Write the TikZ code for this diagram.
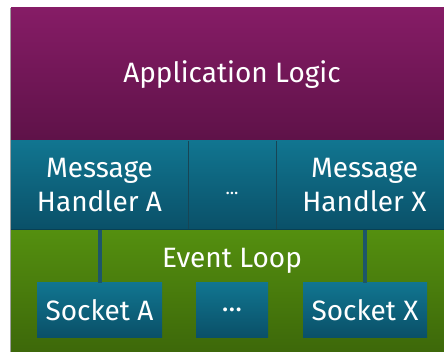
\documentclass[tikz,border=0pt]{standalone}
\usepackage{fontspec}
\setmainfont{Fira Sans}
\definecolor{plumtop}{HTML}{861C66}
\definecolor{plumbot}{HTML}{5E1248}
\definecolor{tealtop}{HTML}{117590}
\definecolor{tealbot}{HTML}{0A5068}
\definecolor{greentop}{HTML}{548F0F}
\definecolor{greenbot}{HTML}{3D680A}
\definecolor{tealline}{HTML}{1D566A}
\definecolor{edgegray}{HTML}{A0A0A0}
\tikzset{
  layer/.style={rectangle, inner sep=0pt, outer sep=0pt, text=white, align=center},
  plum/.style={layer, top color=plumtop, bottom color=plumbot},
  tealbox/.style={layer, top color=tealtop, bottom color=tealbot},
  greenbox/.style={layer, top color=greentop, bottom color=greenbot},
  sep/.style={draw=tealline!80!black, line width=0.8pt},
  bar/.style={fill=tealline, draw=none},
  big/.style={font=\fontsize{28}{34}\selectfont},
}
\begin{document}
\begin{tikzpicture}[x=1pt, y=-1pt]
\useasboundingbox (0,0) rectangle (444,352);
\fill[white] (0,0) rectangle (444,352);
\clip (0,0) rectangle (444,352);
% application layer
\node[plum, big, minimum width=442pt, minimum height=133pt]
  (app) at (232,74.5) {Application Logic};
% message handlers
\node[tealbox, big, minimum width=177pt, minimum height=89pt]
  (ha) at (99.5,185.5) {Message\\Handler A};
\node[tealbox, minimum width=88pt, minimum height=89pt] (hd) at (232,185.5) {};
\node[text=white, inner sep=0pt, font=\fontsize{18}{22}\selectfont, yshift=-8pt]
  (hdtxt) at (hd.center) {...};
\node[tealbox, big, minimum width=177pt, minimum height=89pt]
  (hx) at (364.5,185.5) {Message\\Handler X};
\draw[sep] (ha.north east) -- (ha.south east);
\draw[sep] (hx.north west) -- (hx.south west);
\draw[draw=tealbot!80!black, line width=1pt] (ha.south west) -- (hx.south east);
% event loop
\node[greenbox, minimum width=442pt, minimum height=121pt] (loop) at (232,291.5) {};
\node[text=white, big, inner sep=0pt] (looptxt) at (232,261) {Event Loop};
% sockets
\node[tealbox, big, minimum width=125pt, minimum height=54pt]
  (sa) at (99.5,310) {Socket A};
\node[tealbox, big, minimum width=72pt, minimum height=54pt]
  (sd) at (232,310) {...};
\node[tealbox, big, minimum width=124pt, minimum height=54pt]
  (sx) at (365,310) {Socket X};
% links from the handlers down to the sockets
\fill[bar] ([xshift=-2pt]sa.north |- ha.south) rectangle ([xshift=2pt]sa.north);
\fill[bar] ([xshift=-2pt]sx.north |- hx.south) rectangle ([xshift=2pt]sx.north);
% left edge line
\draw[edgegray, line width=0.6pt] (10.6,8) -- (10.6,352);
\end{tikzpicture}
\end{document}
